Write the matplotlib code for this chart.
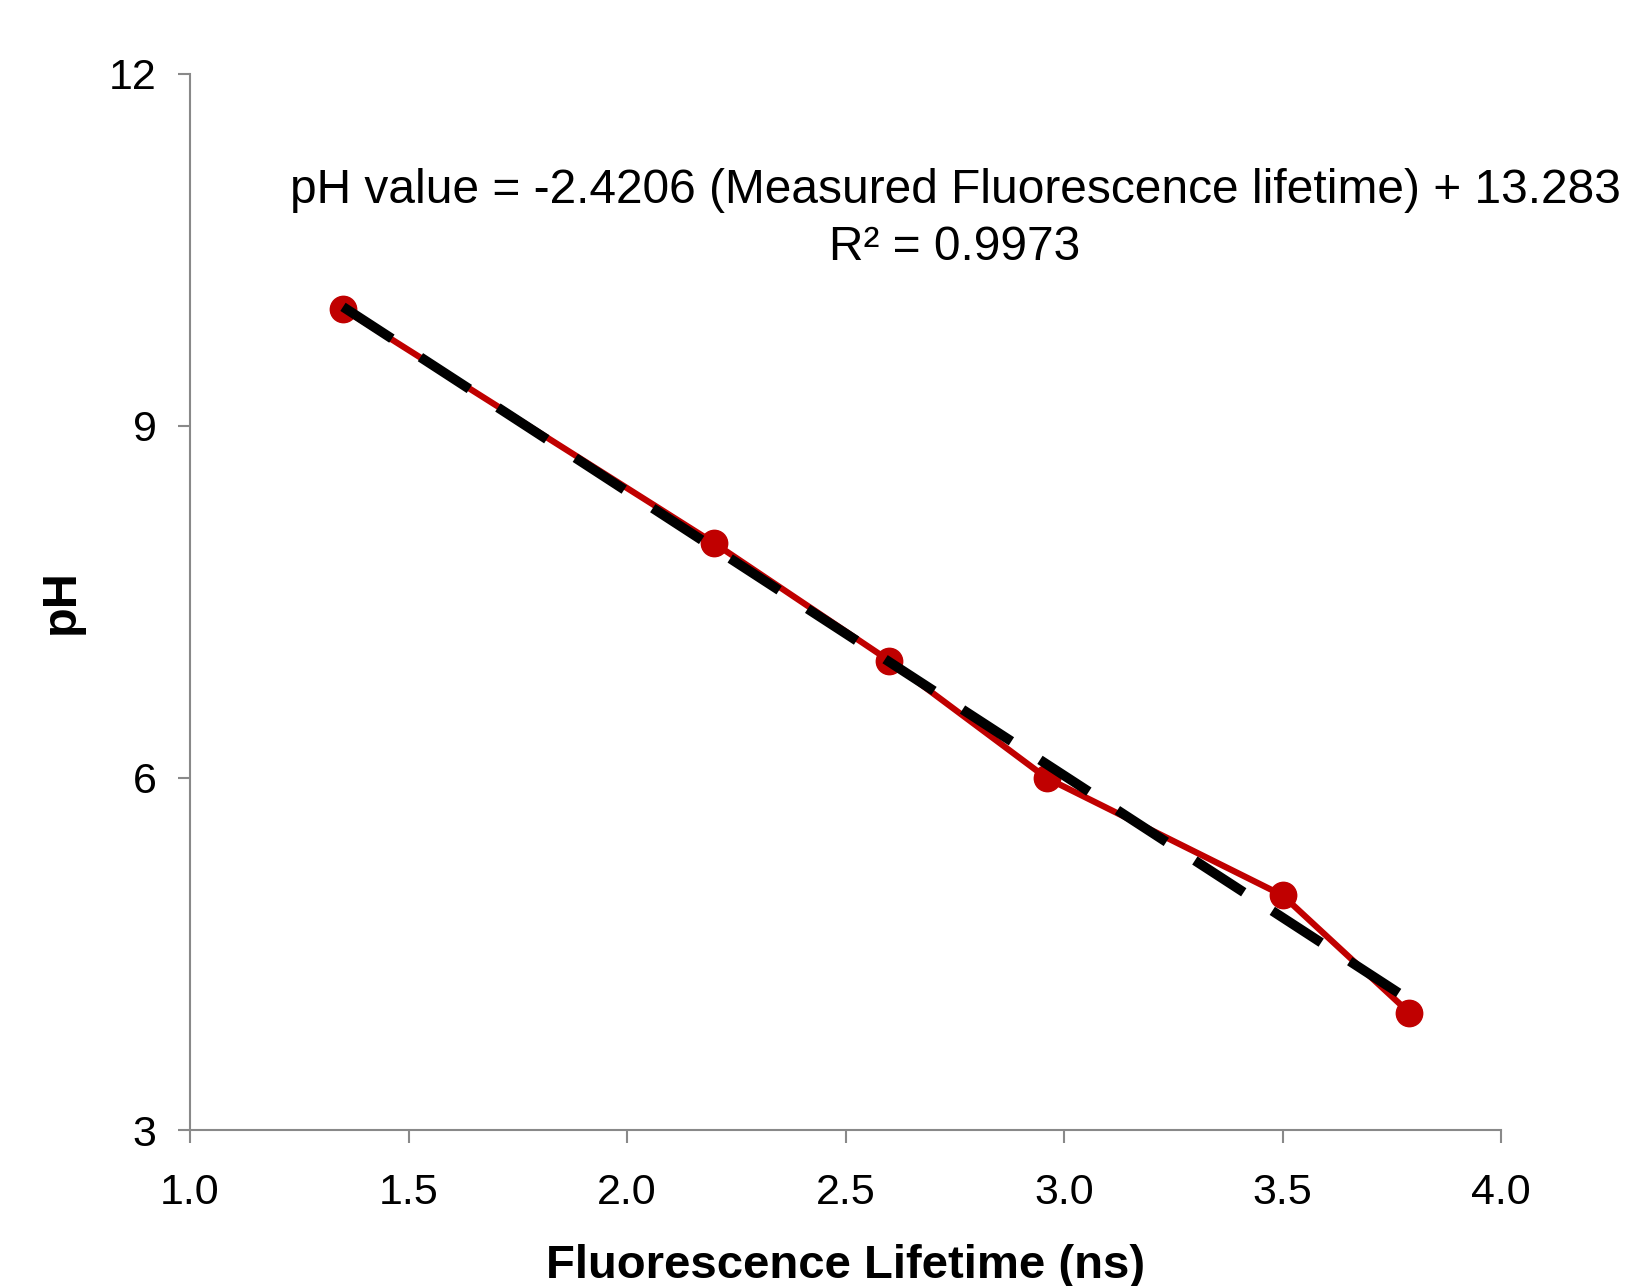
import numpy as np
import matplotlib.pyplot as plt

plt.rcParams['font.family'] = ['Liberation Sans', 'DejaVu Sans']

# Data
lifetime = [1.35, 2.20, 2.60, 2.96, 3.50, 3.79]
ph = [10, 8, 7, 6, 5, 4]
slope = -2.4206
intercept = 13.283
r2 = 0.9973
xticks = [1.0, 1.5, 2.0, 2.5, 3.0, 3.5, 4.0]
yticks = [3, 6, 9, 12]

fig = plt.figure(figsize=(16.27, 12.86), dpi=100)
ax = fig.add_axes([0.1168, 0.1213, 0.8058, 0.8212])

ax.plot(lifetime, ph, color='#C00000', linewidth=4.5, marker='o', markersize=19, zorder=2)

# linear trendline
xt = np.array([min(lifetime), max(lifetime)])
ax.plot(xt, slope * xt + intercept, color='black', linewidth=7,
        dashes=(6, 3.5), solid_capstyle='butt', dash_capstyle='butt', zorder=3)

ax.set_xlim(1.0, 4.0)
ax.set_ylim(3, 12)
ax.set_xticks(xticks)
ax.set_xticklabels([f'{v:.1f}' for v in xticks])
ax.set_yticks(yticks)

for s in ['top', 'right']:
    ax.spines[s].set_visible(False)
for s in ['left', 'bottom']:
    ax.spines[s].set_color('#898989')
    ax.spines[s].set_linewidth(1.5)
ax.tick_params(direction='out', length=9, width=1.5, color='#898989',
               labelsize=31)
ax.tick_params(axis='x', pad=22)
ax.tick_params(axis='y', pad=15)

ax.set_xlabel('Fluorescence Lifetime (ns)', fontsize=34, fontweight='bold', labelpad=22)
ax.set_ylabel('pH', fontsize=35, fontweight='bold', labelpad=18)

fig.text(0.587, 0.8295,
         f'pH value = {slope} (Measured Fluorescence lifetime) + {intercept}\nR² = {r2}',
         ha='center', va='center', fontsize=34.5, linespacing=1.33)

fig.savefig('out.png', dpi=100)
